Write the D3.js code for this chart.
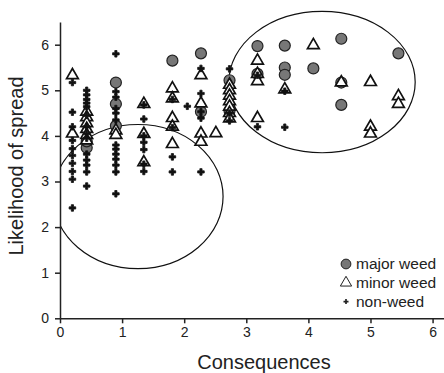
<!DOCTYPE html>
<html>
<head>
<meta charset="utf-8">
<script src="https://cdn.jsdelivr.net/npm/d3@7"></script>
<style>
  body { margin: 0; background: #fff; }
  svg { display: block; font-family: "Liberation Sans", Arial, sans-serif; }
</style>
</head>
<body>
<div id="chart"></div>
<script>
// data: [consequences, likelihood]
const majorWeed = [
  [0.43, 3.74], [0.43, 3.88],
  [0.9, 5.17], [0.9, 4.70], [0.9, 4.22],
  [1.81, 5.65],
  [2.27, 5.81], [2.27, 4.53],
  [2.73, 5.22], [2.73, 4.55],
  [3.18, 5.97], [3.18, 5.36],
  [3.62, 5.98], [3.62, 5.5], [3.62, 5.34],
  [4.08, 5.48],
  [4.53, 6.13], [4.53, 5.17], [4.53, 4.68],
  [5.45, 5.81]
];

const minorWeed = [
  [0.2, 5.33], [0.2, 4.05],
  [0.43, 4.53], [0.43, 4.41], [0.43, 4.28], [0.43, 4.15], [0.43, 4.02], [0.43, 3.9],
  [0.9, 4.12], [0.9, 4.02],
  [1.35, 4.7], [1.35, 4.04], [1.35, 3.42],
  [1.81, 5.04], [1.81, 4.82], [1.81, 4.39], [1.81, 4.2], [1.81, 3.82],
  [2.27, 5.33], [2.27, 4.71], [2.27, 4.05], [2.27, 3.87],
  [2.51, 4.06],
  [2.73, 5.12], [2.73, 5.0], [2.73, 4.88], [2.73, 4.76], [2.73, 4.64], [2.73, 4.5], [2.73, 4.38],
  [3.18, 5.65], [3.18, 5.36], [3.18, 5.2], [3.18, 4.39],
  [3.62, 5.02],
  [4.08, 5.99],
  [4.53, 5.17],
  [5.0, 5.18], [5.0, 4.2], [5.0, 4.05],
  [5.45, 4.87], [5.45, 4.7]
];

const nonWeed = [
  [0.2, 5.17], [0.2, 4.52], [0.2, 4.2], [0.2, 3.9], [0.2, 3.72], [0.2, 3.57], [0.2, 3.4], [0.2, 3.22], [0.2, 3.05], [0.2, 2.42],
  [0.43, 5.0], [0.43, 4.9], [0.43, 4.8], [0.43, 4.72], [0.43, 4.64], [0.43, 4.45], [0.43, 4.2], [0.43, 4.05], [0.43, 3.95],
  [0.43, 3.6], [0.43, 3.47], [0.43, 3.36], [0.43, 3.21], [0.43, 2.9],
  [0.9, 5.8], [0.9, 4.97], [0.9, 4.85], [0.9, 4.6], [0.9, 4.5], [0.9, 4.35], [0.9, 3.8], [0.9, 3.71], [0.9, 3.6],
  [0.9, 3.49], [0.9, 3.36], [0.9, 3.21], [0.9, 2.73],
  [1.35, 4.68], [1.35, 4.37], [1.35, 4.0], [1.35, 3.86], [1.35, 3.70], [1.35, 3.38], [1.35, 3.22],
  [1.81, 4.8], [1.81, 4.18], [1.81, 3.54], [1.81, 3.21],
  [2.05, 4.65],
  [2.27, 5.48], [2.27, 4.93], [2.27, 4.53], [2.27, 4.39], [2.27, 3.21],
  [2.73, 5.47], [2.73, 4.5], [2.73, 4.33],
  [3.18, 5.33], [3.18, 4.2],
  [3.62, 4.98], [3.62, 4.19]
];

// ellipses drawn around the two groups: [cx, cy, rx, ry] in data units
const groupEllipses = [
  [1.256, 2.67, 1.37, 1.58],
  [4.22, 5.18, 1.50, 1.55]
];

const xTicks = [0, 1, 2, 3, 4, 5, 6];
const yTicks = [0, 1, 2, 3, 4, 5, 6];

const legendItems = ['major weed', 'minor weed', 'non-weed'];

const W = 444, H = 373;
const margin = { top: 22, right: 0, bottom: 55, left: 60 };

const x = d3.scaleLinear().domain([0, 6.2]).range([margin.left, 445]);
const y = d3.scaleLinear().domain([0, 6.5]).range([318.3, 21.9]);

const svg = d3.select('#chart').append('svg')
  .attr('width', W)
  .attr('height', H);

svg.append('clipPath').attr('id', 'plot')
  .append('rect')
  .attr('x', margin.left).attr('y', 0)
  .attr('width', W - margin.left).attr('height', y(0));

// ellipses
svg.append('g')
  .attr('clip-path', 'url(#plot)')
  .selectAll('ellipse')
  .data(groupEllipses)
  .enter()
  .append('ellipse')
  .attr('cx', d => x(d[0]))
  .attr('cy', d => y(d[1]))
  .attr('rx', d => x(d[2]) - x(0))
  .attr('ry', d => y(0) - y(d[3]))
  .attr('fill', 'none')
  .attr('stroke', '#111')
  .attr('stroke-width', 1.2);

// axes
const xAxis = d3.axisBottom(x).tickValues(xTicks).tickFormat(d3.format('d'))
  .tickSize(5).tickPadding(4).tickSizeOuter(0);
const yAxis = d3.axisLeft(y).tickValues(yTicks).tickFormat(d3.format('d'))
  .tickSize(5).tickPadding(6).tickSizeOuter(0);

const gx = svg.append('g')
  .attr('transform', `translate(0,${y(0)})`)
  .call(xAxis);
const gy = svg.append('g')
  .attr('transform', `translate(${margin.left},0)`)
  .call(yAxis);

[gx, gy].forEach(g => {
  g.select('.domain').attr('stroke', '#222').attr('stroke-width', 1.5);
  g.selectAll('.tick line').attr('stroke', '#222').attr('stroke-width', 1.5);
  g.selectAll('.tick text')
    .attr('fill', '#222')
    .style('font-size', '14px')
    .style('font-family', '"Liberation Sans", Arial, sans-serif');
});

// markers: circles below, triangles, then crosses on top
const circleSym = d3.symbol().type(d3.symbolCircle).size(95);
const triSym = d3.symbol().type(d3.symbolTriangle).size(60);
const crossSym = d3.symbol().type(d3.symbolCross).size(24);

svg.append('g').selectAll('path')
  .data(majorWeed)
  .enter()
  .append('path')
  .attr('d', circleSym)
  .attr('transform', d => `translate(${x(d[0])},${y(d[1])})`)
  .attr('fill', '#777')
  .attr('stroke', '#222')
  .attr('stroke-width', 1.2);

svg.append('g').selectAll('path')
  .data(minorWeed)
  .enter()
  .append('path')
  .attr('d', triSym)
  .attr('transform', d => `translate(${x(d[0])},${y(d[1])})`)
  .attr('fill', '#fff')
  .attr('stroke', '#111')
  .attr('stroke-width', 1.7);

svg.append('g').selectAll('path')
  .data(nonWeed)
  .enter()
  .append('path')
  .attr('d', crossSym)
  .attr('transform', d => `translate(${x(d[0])},${y(d[1])})`)
  .attr('fill', '#111')
  .attr('stroke', '#111')
  .attr('stroke-width', 0.8);

// legend
const legend = svg.append('g').attr('transform', 'translate(346,264)');
const legendSyms = [
  { d: d3.symbol().type(d3.symbolCircle).size(75)(), fill: '#777', stroke: '#222', sw: 1 },
  { d: d3.symbol().type(d3.symbolTriangle).size(55)(), fill: 'none', stroke: '#222', sw: 1 },
  { d: d3.symbol().type(d3.symbolCross).size(14)(), fill: '#222', stroke: 'none', sw: 0 }
];
legendItems.forEach((label, i) => {
  const row = legend.append('g').attr('transform', `translate(0,${i * 18.8})`);
  row.append('path')
    .attr('d', legendSyms[i].d)
    .attr('fill', legendSyms[i].fill)
    .attr('stroke', legendSyms[i].stroke)
    .attr('stroke-width', legendSyms[i].sw);
  row.append('text')
    .attr('x', 10)
    .attr('dy', '0.35em')
    .attr('fill', '#222')
    .style('font-size', '15.5px')
    .text(label);
});

// axis titles
svg.append('text')
  .attr('x', 264)
  .attr('y', 369)
  .attr('text-anchor', 'middle')
  .attr('fill', '#222')
  .style('font-size', '20px')
  .text('Consequences');

svg.append('text')
  .attr('transform', 'translate(23,166) rotate(-90)')
  .attr('text-anchor', 'middle')
  .attr('fill', '#222')
  .style('font-size', '20px')
  .text('Likelihood of spread');
</script>
</body>
</html>
